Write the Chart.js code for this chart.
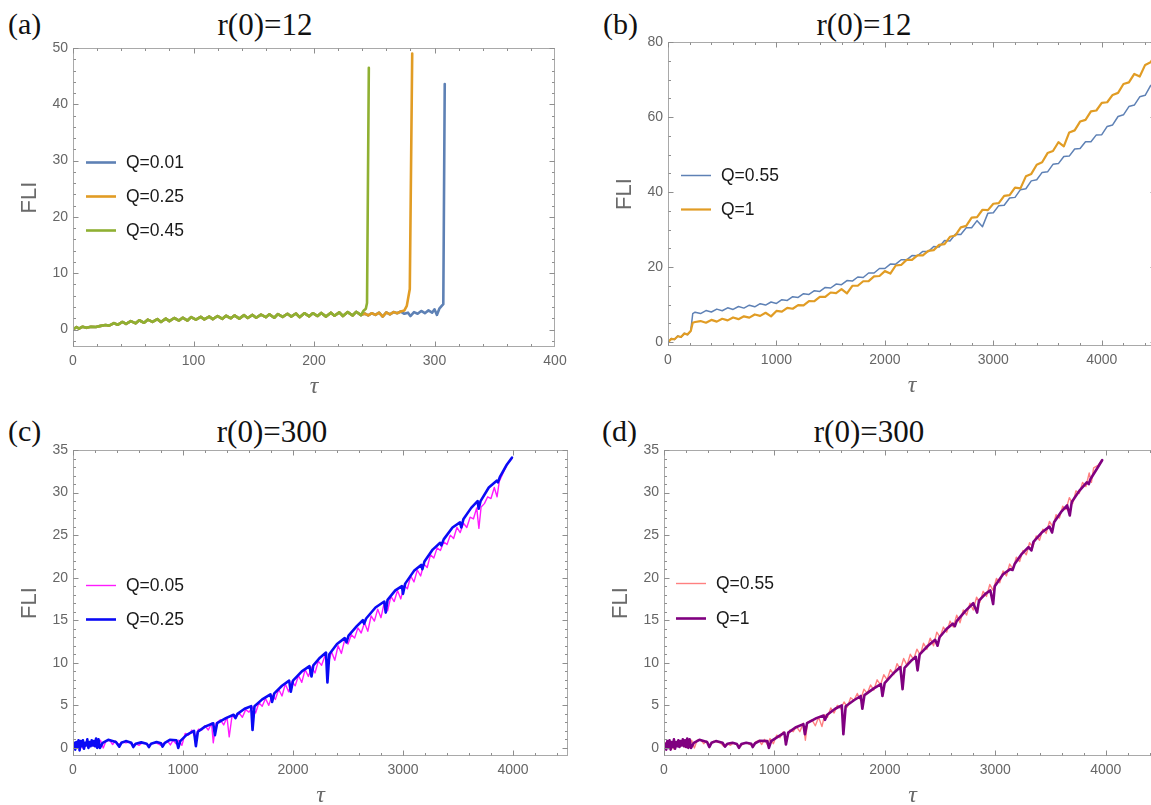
<!DOCTYPE html>
<html>
<head>
<meta charset="utf-8">
<script src="https://cdn.jsdelivr.net/npm/chart.js@4.4.1/dist/chart.umd.min.js"></script>
<style>
  html, body { margin:0; padding:0; background:#fff; width:1151px; height:805px; overflow:hidden; }
  canvas { position:absolute; }
  .lbl { position:absolute; font-family:"Liberation Serif","DejaVu Serif",serif; font-size:30px; color:#111; white-space:nowrap; line-height:1; }
  .ttl { font-size:31px; }
</style>
</head>
<body>
<div class="lbl" style="left:8px; top:9px;">(a)</div>
<div class="lbl ttl" style="left:265px; top:9px; transform:translateX(-50%);">r(0)=12</div>
<div class="lbl" style="left:603px; top:9px;">(b)</div>
<div class="lbl ttl" style="left:864px; top:9px; transform:translateX(-50%);">r(0)=12</div>
<div class="lbl" style="left:8px; top:416px;">(c)</div>
<div class="lbl ttl" style="left:272px; top:416px; transform:translateX(-50%);">r(0)=300</div>
<div class="lbl" style="left:602px; top:416px;">(d)</div>
<div class="lbl ttl" style="left:869px; top:416px; transform:translateX(-50%);">r(0)=300</div>
<canvas id="ca" width="580" height="400" style="left:0px; top:0px;"></canvas>
<canvas id="cb" width="600" height="400" style="left:580px; top:0px;"></canvas>
<canvas id="cc" width="580" height="405" style="left:0px; top:400px;"></canvas>
<canvas id="cd" width="600" height="405" style="left:580px; top:400px;"></canvas>
<script>
// ---------------- DATA ----------------
// Panel (a): r(0)=12, points are [tau, FLI]
const aShared = [[0,0],[3,0.45],[5,0.15],[8,0.5],[11,0.3],[15,0.5],[19,0.45],[23,0.65],[27,0.8],[30,0.7],[34,1.15],[37,0.85],[41,1.35],[44,1.0],[48,1.5],[52,1.1],[55,1.65],[59,1.2],[62,1.75],[66,1.35],[70,1.85],[73,1.35],[77,1.95],[80,1.5],[84,2.05],[88,1.6],[91,2.1],[95,1.6],[98,2.2],[102,1.75],[106,2.25],[109,1.8],[113,2.3],[116,1.85],[120,2.4],[124,1.9],[127,2.45],[131,2.0],[134,2.5],[138,1.95],[142,2.55],[145,2.05],[149,2.6],[152,2.1],[156,2.65],[160,2.2],[163,2.7],[167,2.1],[170,2.75],[174,2.25],[178,2.8],[181,2.3],[185,2.85],[188,2.2],[192,2.9],[196,2.35],[199,2.9],[203,2.4],[206,2.95],[210,2.3],[214,3.0],[217,2.45],[221,3.05],[224,2.4],[228,3.1],[232,2.5],[235,3.15],[239,2.55]];
const aTailQ045 = [[241,3.3],[243,3.7],[244,4.7],[245.5,46.5]];
const aTailQ025 = [[242,2.85],[245,2.5],[248,2.9],[251,2.6],[254,3.0],[257,2.3],[260,3.05],[263,2.7],[266,3.1],[269,2.9],[272,3.2],[275,3.4],[277,4.2],[279.5,7.2],[281.5,49.0]];
const aTailQ001 = [[242,2.85],[245,2.5],[248,2.9],[251,2.6],[254,3.0],[257,2.3],[260,3.05],[263,2.7],[266,3.1],[269,2.9],[272,3.2],[275,2.8],[278,3.0],[280,2.4],[283,3.1],[286,2.8],[289,3.3],[292,2.9],[295,3.4],[298,3.0],[300,3.6],[302,2.6],[304,3.7],[306,4.2],[307.3,4.5],[308.5,43.6]];
const aXTicks = [0,100,200,300,400];
const aYTicks = [0,10,20,30,40,50];
const aLabels = ['Q=0.01','Q=0.25','Q=0.45'];

// Panel (b): r(0)=12
const bTau = [0,30,60,90,120,150,180,210,228,250,300,350,400,450,500,550,600,650,700,750,800,850,900,950,1000,1050,1100,1150,1200,1250,1300,1350,1400,1450,1500,1550,1600,1650,1700,1750,1800,1850,1900,1950,2000,2050,2100,2150,2200,2250,2300,2350,2400,2450,2500,2550,2600,2650,2700,2750,2800,2850,2900,2950,3000,3050,3100,3150,3200,3250,3300,3350,3400,3450,3500,3550,3600,3650,3700,3750,3800,3850,3900,3950,4000,4050,4100,4150,4200,4250,4300,4350,4400,4450,4500];
const bFliQ055 = [0.0,1.0,0.7,1.7,1.3,2.4,2.0,3.1,7.6,8.0,
  7.65,8.45,8.05,8.83,8.4,9.18,8.75,9.53,9.1,9.88,
  9.45,10.28,9.9,10.73,10.35,11.35,11.15,12.15,11.95,12.95,
  12.75,13.75,13.55,14.6,14.45,15.5,15.35,16.43,16.3,17.38,
  17.25,18.45,18.45,19.65,19.65,20.83,20.8,21.98,21.95,23.1,
  23.05,24.2,24.15,25.5,25.4,27.1,27.0,28.75,28.7,30.5,
  30.5,32.4,30.8,34.4,34.5,36.4,36.5,38.45,38.6,40.65,
  40.9,43.0,43.3,45.25,45.4,47.4,47.6,49.5,49.6,51.5,
  51.6,53.4,53.4,55.25,55.3,57.5,57.9,60.15,60.6,62.8,
  63.2,65.4,65.8,68.35,69.8];
const bFliQ1 = [0.0,0.9,0.8,1.6,1.4,2.3,2.1,3.0,5.2,5.4,
  5.65,5.2,5.95,5.5,6.25,5.83,6.6,6.15,6.9,6.55,
  7.4,7.03,7.85,6.9,8.35,8.15,9.15,8.93,9.9,9.83,
  10.95,10.93,12.1,12.08,13.25,13.1,14.15,13.0,15.05,15.05,
  16.25,16.3,17.55,17.65,18.95,18.3,20.45,20.6,21.95,21.95,
  23.15,23.15,24.35,24.55,25.95,26.15,28.1,28.45,30.6,31.0,
  33.2,33.35,35.3,35.2,36.9,37.05,39.0,39.2,41.2,41.0,
  44.2,44.85,47.3,47.95,50.4,50.95,53.3,52.2,55.9,56.45,
  58.8,59.25,61.5,61.75,63.8,63.95,65.9,66.45,68.8,69.25,
  71.5,70.8,73.9,74.6,76.9];
const bXTicks = [0,1000,2000,3000,4000];
const bYTicks = [0,20,40,60,80];
const bLabels = ['Q=0.55','Q=1'];

// Panel (c): r(0)=300
const cQ005 = [[0,0.0],[15,0.5],[25,0.1],[40,0.7],[55,0.2],[70,0.6],[85,0.0],[100,0.5],[115,0.2],[130,0.7],[150,0.3],[170,0.8],[190,0.2],[210,0.7],[230,0.4],[250,0.9],[275,0.0],[300,0.8],[335,0.9],[360,0.4],[385,0.8],[415,0.4],[450,0.7],[480,0.6],[510,0.7],[540,0.3],[570,0.5],[600,0.3],[630,0.6],[660,0.5],[690,0.3],[720,0.55],[750,0.6],[780,0.45],[800,0.3],[830,0.6],[860,0.8],[885,0.35],[910,0.9],[935,0.5],[960,0.9],[990,0.3],[1020,1.7],[1050,1.5],[1080,2.1],[1110,1.2],[1140,2.2],[1170,2.1],[1200,2.6],[1230,2.1],[1260,2.9],[1275,0.6],[1300,2.9],[1340,3.3],[1370,2.7],[1400,3.6],[1420,1.3],[1445,3.7],[1480,3.6],[1510,4.1],[1540,3.6],[1570,4.5],[1600,4.2],[1630,4.8],[1660,4.1],[1690,5.3],[1720,4.9],[1750,5.8],[1780,5.0],[1810,6.2],[1840,5.7],[1870,6.9],[1900,6.1],[1930,7.5],[1960,6.6],[1990,7.8],[2020,7.3],[2050,8.5],[2080,7.7],[2110,9.2],[2140,8.4],[2170,9.5],[2200,8.8],[2230,10.2],[2260,9.7],[2290,10.8],[2320,9.9],[2350,11.3],[2380,10.3],[2410,12.0],[2440,11.1],[2470,12.7],[2500,12.2],[2530,13.3],[2560,12.9],[2590,14.1],[2620,13.5],[2650,14.7],[2680,13.7],[2710,15.5],[2740,14.9],[2770,16.3],[2800,15.3],[2830,17.1],[2860,16.1],[2890,17.8],[2920,17.2],[2950,18.5],[2980,17.5],[3010,19.1],[3040,18.7],[3070,20.2],[3100,19.5],[3130,20.9],[3160,20.2],[3190,21.6],[3220,21.2],[3250,22.7],[3280,22.3],[3310,23.5],[3340,23.2],[3370,24.2],[3400,23.9],[3430,25.0],[3460,24.6],[3490,25.9],[3520,25.3],[3550,26.4],[3580,25.9],[3610,27.1],[3640,26.9],[3670,28.2],[3690,25.8],[3710,28.3],[3740,28.7],[3770,29.5],[3800,29.3],[3830,30.6],[3855,29.5],[3875,31.3],[3910,32.3],[3950,33.4],[3990,34.0]];
const cQ025 = [[0,0.0],[10,0.6],[20,-0.2],[30,0.7],[40,0.1],[50,0.9],[60,-0.3],[70,0.8],[80,0.2],[90,0.9],[100,-0.1],[110,0.6],[120,0.3],[130,1.0],[140,0.0],[150,0.7],[160,0.2],[170,0.9],[180,0.3],[190,0.8],[200,0.2],[210,1.1],[220,0.0],[232,1.0],[245,0.0],[270,0.6],[320,0.95],[390,0.7],[421,0.15],[440,0.6],[480,0.8],[530,0.6],[548,0.1],[570,0.5],[620,0.65],[670,0.5],[690,0.1],[710,0.5],[760,0.7],[800,0.55],[814,0.15],[835,0.6],[880,0.95],[940,0.9],[957,0.0],[975,0.8],[1030,1.5],[1100,2.0],[1117,0.2],[1135,1.9],[1200,2.5],[1275,2.9],[1290,1.5],[1310,2.9],[1390,3.5],[1460,3.9],[1477,3.5],[1495,4.0],[1560,4.6],[1620,4.9],[1632,2.1],[1650,4.9],[1720,5.7],[1795,6.3],[1810,5.4],[1830,6.4],[1900,7.3],[1965,7.9],[1980,6.6],[2000,7.9],[2080,9.0],[2150,9.6],[2168,8.4],[2185,9.7],[2245,10.6],[2300,11.2],[2313,7.7],[2330,11.0],[2400,12.2],[2470,12.9],[2486,12.4],[2505,13.2],[2580,14.3],[2635,15.0],[2646,14.6],[2665,15.2],[2750,16.5],[2830,17.2],[2843,15.9],[2860,17.4],[2930,18.5],[2990,19.0],[3000,18.1],[3020,19.3],[3100,20.8],[3165,21.5],[3176,21.0],[3195,21.9],[3270,23.3],[3338,24.1],[3349,23.8],[3370,24.5],[3450,25.9],[3518,26.5],[3530,25.9],[3550,26.9],[3620,28.2],[3678,29.0],[3688,28.1],[3705,29.0],[3780,30.6],[3852,31.4],[3863,31.2],[3880,31.8],[3940,33.2],[3990,34.1]];
const cLabels = ['Q=0.05','Q=0.25'];

// Panel (d): r(0)=300
const dQ055 = [[0,0.0],[15,0.6],[25,0.0],[40,0.8],[55,0.2],[70,0.7],[85,-0.1],[100,0.6],[115,0.2],[130,0.8],[150,0.2],[170,0.9],[190,0.1],[210,0.8],[230,0.3],[250,0.9],[275,0.0],[300,0.9],[335,0.9],[360,0.5],[385,0.8],[415,0.3],[450,0.8],[480,0.7],[510,0.6],[540,0.2],[570,0.5],[600,0.3],[630,0.6],[660,0.4],[690,0.2],[720,0.5],[750,0.6],[780,0.4],[800,0.2],[830,0.7],[860,0.9],[885,0.4],[910,1.0],[935,0.4],[960,1.1],[990,0.5],[1020,1.5],[1050,1.2],[1080,1.9],[1110,1.0],[1140,2.1],[1170,1.9],[1200,2.5],[1230,1.9],[1260,2.9],[1280,0.9],[1300,3.0],[1340,3.3],[1370,2.6],[1400,3.6],[1430,2.5],[1455,3.9],[1480,3.6],[1510,4.7],[1540,4.1],[1570,5.0],[1600,4.6],[1630,5.4],[1660,4.8],[1690,5.9],[1720,5.6],[1750,6.4],[1780,5.6],[1810,6.9],[1840,6.4],[1870,7.4],[1900,6.8],[1930,8.0],[1960,7.4],[1990,8.6],[2020,8.0],[2050,9.2],[2080,8.6],[2110,9.9],[2140,9.2],[2170,10.5],[2200,9.7],[2230,11.0],[2260,10.4],[2290,11.6],[2320,10.9],[2350,12.3],[2380,11.6],[2410,12.9],[2440,12.0],[2470,13.6],[2500,13.0],[2530,14.2],[2560,13.6],[2590,14.9],[2620,14.2],[2650,15.6],[2680,14.7],[2710,16.2],[2740,15.6],[2770,17.0],[2800,16.2],[2830,17.7],[2860,17.1],[2890,18.4],[2920,17.8],[2950,19.2],[2980,18.5],[3010,19.9],[3040,19.4],[3070,20.8],[3100,20.2],[3130,21.6],[3160,21.0],[3190,22.4],[3220,21.9],[3250,23.2],[3280,22.7],[3310,24.1],[3340,23.6],[3370,24.9],[3400,24.4],[3430,25.7],[3460,25.2],[3490,26.6],[3520,26.0],[3550,27.4],[3580,27.0],[3610,28.4],[3640,28.0],[3670,29.4],[3700,28.7],[3730,30.2],[3760,29.9],[3790,31.2],[3820,30.7],[3850,32.3],[3870,31.2],[3890,32.9],[3930,33.2],[3965,33.8]];
const dQ1 = [[0,0.0],[10,0.5],[20,-0.2],[30,0.8],[40,0.0],[50,0.9],[60,-0.2],[70,0.7],[80,0.1],[90,1.0],[100,-0.1],[110,0.7],[120,0.2],[130,0.9],[140,0.1],[150,0.8],[160,0.3],[170,1.0],[180,0.2],[190,0.9],[200,0.1],[210,1.1],[220,0.0],[232,1.0],[245,0.0],[270,0.6],[320,0.95],[390,0.7],[410,0.1],[430,0.6],[470,0.8],[530,0.6],[552,0.15],[575,0.5],[620,0.6],[660,0.45],[679,0.0],[700,0.45],[745,0.6],[790,0.5],[803,0.1],[825,0.55],[870,0.85],[935,0.8],[950,0.0],[970,0.8],[1030,1.3],[1090,1.8],[1104,0.4],[1125,1.8],[1190,2.4],[1262,2.8],[1276,1.6],[1295,2.9],[1380,3.5],[1445,3.8],[1458,3.3],[1478,3.9],[1550,4.6],[1610,5.0],[1624,1.6],[1645,4.9],[1720,5.6],[1782,6.1],[1796,4.6],[1815,6.2],[1900,7.0],[1964,7.5],[1978,6.1],[1998,7.6],[2080,8.8],[2140,9.5],[2160,6.9],[2178,9.4],[2235,10.2],[2280,10.7],[2296,9.1],[2315,11.0],[2390,12.0],[2455,12.7],[2477,12.0],[2495,13.0],[2560,14.0],[2615,14.6],[2633,14.3],[2650,14.9],[2730,16.1],[2800,17.0],[2835,15.9],[2852,17.3],[2910,18.1],[2955,18.5],[2980,16.9],[2995,19.0],[3070,20.4],[3135,21.0],[3156,20.9],[3175,21.6],[3240,22.8],[3300,23.6],[3327,23.2],[3345,24.2],[3420,25.3],[3490,26.0],[3514,25.3],[3532,26.5],[3600,27.8],[3650,28.5],[3674,27.3],[3692,28.9],[3760,30.2],[3828,31.2],[3846,31.0],[3862,31.6],[3920,32.8],[3967,33.8]];
const dLabels = ['Q=0.55','Q=1'];
const cdXTicks = [0,1000,2000,3000,4000];
const cdYTicks = [0,5,10,15,20,25,30,35];

// ---------------- RENDERING ----------------
const TICK_FONT = { family: '"Liberation Sans", Arial, sans-serif', size: 14 };
const YW = 56, XH = 48;

const mmaFrame = {
  id: 'mmaFrame',
  afterDraw(chart, args, o) {
    const ctx = chart.ctx, a = chart.chartArea, xs = chart.scales.x, ys = chart.scales.y;
    ctx.save();
    const L = Math.round(a.left) + 0.5, R = Math.round(a.right) - 0.5;
    const T = Math.round(a.top) + 0.5, B = Math.round(a.bottom) - 0.5;
    ctx.lineWidth = 1;
    ctx.strokeStyle = '#a9a9a9';
    ctx.strokeRect(L, T, R - L, B - T);
    ctx.strokeStyle = '#8e8e8e';
    ctx.beginPath();
    const xMarks = (step, len) => {
      for (let v = Math.ceil(xs.min / step) * step; v <= xs.max + 1e-9; v += step) {
        const p = Math.round(xs.getPixelForValue(v)) + 0.5;
        if (p < L - 0.1 || p > R + 0.1) continue;
        ctx.moveTo(p, B); ctx.lineTo(p, B - len);
        ctx.moveTo(p, T); ctx.lineTo(p, T + len);
      }
    };
    const yMarks = (step, len) => {
      for (let v = Math.ceil(ys.min / step) * step; v <= ys.max + 1e-9; v += step) {
        const p = Math.round(ys.getPixelForValue(v)) + 0.5;
        if (p < T - 0.1 || p > B + 0.1) continue;
        ctx.moveTo(L, p); ctx.lineTo(L + len, p);
        ctx.moveTo(R, p); ctx.lineTo(R - len, p);
      }
    };
    xMarks(o.xMinor, 2.5); xMarks(o.xMajor, 5);
    yMarks(o.yMinor, 2.5); yMarks(o.yMajor, 5);
    ctx.stroke();

    // axis titles
    ctx.fillStyle = '#6a6a6a';
    ctx.font = '22px "Liberation Sans", Arial, sans-serif';
    ctx.textAlign = 'center'; ctx.textBaseline = 'middle';
    ctx.save();
    ctx.translate(a.left - 43, (a.top + a.bottom) / 2);
    ctx.rotate(-Math.PI / 2);
    ctx.fillText(o.yTitle, 0, 0);
    ctx.restore();
    ctx.font = 'italic 24px "Liberation Serif", serif';
    ctx.fillText(o.xTitle, (a.left + a.right) / 2, a.bottom + 40);

    // legend
    const lg = o.legend;
    ctx.font = '17.5px "Liberation Sans", Arial, sans-serif';
    ctx.textAlign = 'left';
    chart.data.datasets.forEach((ds, i) => {
      const yy = Math.round(a.top + lg.dy + i * lg.gap) + 0.5;
      const x0 = a.left + lg.dx;
      ctx.strokeStyle = ds.borderColor;
      ctx.lineWidth = ds.borderWidth;
      ctx.beginPath(); ctx.moveTo(x0, yy); ctx.lineTo(x0 + 30, yy); ctx.stroke();
      ctx.fillStyle = '#1a1a1a';
      ctx.fillText(ds.label, x0 + 40, yy + 1);
    });
    ctx.restore();
  }
};

function toXY(pairs) { return pairs.map(p => ({ x: p[0], y: p[1] })); }

function makePanel(id, canvasRect, frame, cfg) {
  const [cl, ct, cw, ch] = canvasRect;
  const [L, T, R, B] = frame;
  const padding = { left: L - cl - YW, top: T - ct, right: (cl + cw) - R, bottom: (ct + ch) - B - XH };
  const datasets = cfg.series.map(s => ({
    label: s.label, data: s.data, borderColor: s.color, borderWidth: s.width, order: s.order,
    pointRadius: 0, fill: false, tension: 0, borderJoinStyle: 'round', borderCapStyle: 'round'
  }));
  return new Chart(document.getElementById(id), {
    type: 'line',
    data: { datasets },
    plugins: [mmaFrame],
    options: {
      responsive: false, animation: false, devicePixelRatio: 1,
      layout: { padding },
      plugins: {
        legend: { display: false }, tooltip: { enabled: false }, title: { display: false },
        mmaFrame: cfg.frameOpts
      },
      scales: {
        x: {
          type: 'linear', position: 'bottom', min: cfg.xRange[0], max: cfg.xRange[1],
          afterBuildTicks: s => { s.ticks = cfg.xTicks.map(v => ({ value: v })); },
          afterFit: s => { s.height = XH; },
          grid: { display: false, drawTicks: false }, border: { display: false },
          ticks: { color: '#666', font: TICK_FONT, padding: 6, maxRotation: 0, minRotation: 0, autoSkip: false, callback: v => String(v) }
        },
        y: {
          type: 'linear', position: 'left', min: cfg.yRange[0], max: cfg.yRange[1],
          afterBuildTicks: s => { s.ticks = cfg.yTicks.map(v => ({ value: v })); },
          afterFit: s => { s.width = YW; },
          grid: { display: false, drawTicks: false }, border: { display: false },
          ticks: { color: '#666', font: TICK_FONT, padding: 5, autoSkip: false, callback: v => String(v) }
        }
      }
    }
  });
}

// Panel (a)
makePanel('ca', [0, 0, 580, 400], [73, 48, 555, 347], {
  xRange: [0, 400], yRange: [-3.1, 50], xTicks: aXTicks, yTicks: aYTicks,
  series: [
    { label: aLabels[0], data: toXY(aShared.concat(aTailQ001)), color: '#5E81B5', width: 2.6, order: 3 },
    { label: aLabels[1], data: toXY(aShared.concat(aTailQ025)), color: '#E19C24', width: 2.6, order: 2 },
    { label: aLabels[2], data: toXY(aShared.concat(aTailQ045)), color: '#8FB032', width: 2.6, order: 1 }
  ],
  frameOpts: { xMajor: 100, xMinor: 20, yMajor: 10, yMinor: 2, xTitle: 'τ', yTitle: 'FLI', legend: { dx: 13, dy: 114, gap: 34 } }
});

// Panel (b)
makePanel('cb', [580, 0, 600, 400], [668, 42, 1156, 346], {
  xRange: [0, 4500], yRange: [-1, 80], xTicks: bXTicks, yTicks: bYTicks,
  series: [
    { label: bLabels[0], data: bTau.map((t, i) => ({ x: t, y: bFliQ055[i] })), color: '#5E81B5', width: 1.5, order: 2 },
    { label: bLabels[1], data: bTau.map((t, i) => ({ x: t, y: bFliQ1[i] })), color: '#E19C24', width: 2.2, order: 1 }
  ],
  frameOpts: { xMajor: 1000, xMinor: 200, yMajor: 20, yMinor: 5, xTitle: 'τ', yTitle: 'FLI', legend: { dx: 13, dy: 133, gap: 34 } }
});

// Panel (c)
makePanel('cc', [0, 400, 580, 405], [73, 450, 568, 756], {
  xRange: [0, 4500], yRange: [-0.95, 35], xTicks: cdXTicks, yTicks: cdYTicks,
  series: [
    { label: cLabels[0], data: toXY(cQ005), color: '#FF1AFF', width: 1.4, order: 2 },
    { label: cLabels[1], data: toXY(cQ025), color: '#0A0AF5', width: 2.6, order: 1 }
  ],
  frameOpts: { xMajor: 1000, xMinor: 200, yMajor: 5, yMinor: 1, xTitle: 'τ', yTitle: 'FLI', legend: { dx: 13, dy: 135, gap: 34 } }
});

// Panel (d)
makePanel('cd', [580, 400, 600, 405], [664, 450, 1161, 756], {
  xRange: [0, 4500], yRange: [-0.95, 35], xTicks: cdXTicks, yTicks: cdYTicks,
  series: [
    { label: dLabels[0], data: toXY(dQ055), color: '#FF8080', width: 1.4, order: 2 },
    { label: dLabels[1], data: toXY(dQ1), color: '#800080', width: 2.6, order: 1 }
  ],
  frameOpts: { xMajor: 1000, xMinor: 200, yMajor: 5, yMinor: 1, xTitle: 'τ', yTitle: 'FLI', legend: { dx: 12, dy: 133, gap: 35 } }
});
</script>
</body>
</html>
